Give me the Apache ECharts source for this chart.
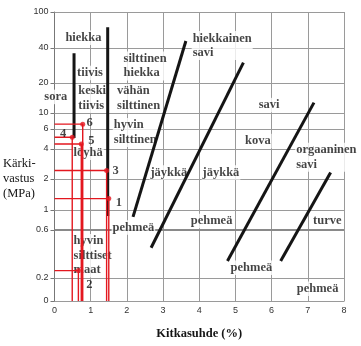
<!DOCTYPE html>
<html>
<head>
<meta charset="utf-8">
<script src="https://cdn.jsdelivr.net/npm/echarts@6/dist/echarts.min.js"></script>
<style>
  html, body { margin: 0; padding: 0; background: #fff; }
  #chart { width: 361px; height: 346px; }
</style>
</head>
<body>
<div id="chart"></div>
<script>
// Cone resistance ticks (MPa) and friction ratio ticks (%)
const yTickValues = [0, 0.2, 0.6, 1, 2, 4, 6, 10, 20, 40, 100];
const xTickValues = [0, 1, 2, 3, 4, 5, 6, 7, 8];

// The resistance scale of this diagram is hand-drawn: height of every tick above the base line
const scaleStops = [0, 23, 71, 91, 122, 152, 172, 188, 218, 253, 289];

// Zone boundaries, [friction ratio %, cone resistance MPa]
const sandLeftBoundary = [[0.54, 5.0], [0.54, 36]];
const sandRightBoundary = [[1.47, 0.86], [1.47, 68]];
const clayBoundaryA = [[2.17, 0.84], [3.63, 47.8]];
const clayBoundaryB = [[2.67, 0.40], [5.22, 29.9]];
const clayBoundaryC = [[4.78, 0.295], [7.17, 12.7]];
const peatBoundary = [[6.25, 0.295], [7.63, 2.33]];

// Numbered sounding results
const pointIds = ['1', '2', '3', '4', '5', '6'];
const pointFriction = [1.50, 0.66, 1.44, 0.49, 0.74, 0.78];
const pointResistance = [1.29, 0.237, 2.43, 5.07, 4.43, 7.0];

// Soil type names and where they sit in the diagram
const soilNames = ['hiekka', 'tiivis', 'keski\ntiivis', 'sora', 'vähän\nsilttinen',
  'silttinen\nhiekka', 'hiekkainen\nsavi', 'hyvin\nsilttinen', 'jäykkä', 'jäykkä',
  'pehmeä', 'pehmeä', 'savi', 'kova', 'orgaaninen\nsavi', 'turve', 'pehmeä', 'pehmeä',
  'löyhä', 'hyvin\nsilttiset\nmaat'];
const soilNameAnchors = [[0.80, 52], [0.98, 24.4], [0.63, 14], [0.036, 14.5], [1.70, 14],
  [1.88, 28], [3.79, 42.6], [1.61, 5.6], [3.16, 2.33], [4.60, 2.33],
  [2.18, 0.64], [4.34, 0.755], [5.93, 12], [5.62, 4.7], [6.65, 3.3], [7.54, 0.755],
  [5.44, 0.253], [7.27, 0.107], [0.93, 3.67], [0.50, 0.333]];

function yPos(v) {
  const n = yTickValues.length;
  for (let i = 0; i < n - 1; i++) {
    const a = yTickValues[i], b = yTickValues[i + 1];
    if (v <= b || i === n - 2) {
      const f = a === 0 ? v / b : Math.log(v / a) / Math.log(b / a);
      return scaleStops[i] + f * (scaleStops[i + 1] - scaleStops[i]);
    }
  }
}
const toXY = pts => pts.map(p => [p[0], yPos(p[1])]);

const serif = 'Liberation Serif';
const ink = '#151515';
const red = '#e3171f';

const numberOffsets = { '1': [10, 4], '2': [11, 14], '3': [9, 0], '4': [-9, -4], '5': [10, -3], '6': [7, -1] };

const boundarySeries = [sandLeftBoundary, sandRightBoundary, clayBoundaryA, clayBoundaryB, clayBoundaryC, peatBoundary]
  .map(b => ({
    type: 'line', data: toXY(b), symbol: 'none', silent: true, z: 3,
    lineStyle: { color: ink, width: 3 }
  }));

const redLineSeries = pointIds.map((id, i) => {
  const x = pointFriction[i], y = yPos(pointResistance[i]);
  return {
    type: 'line', data: [[0, y], [x, y], [x, 0]], symbol: 'none', silent: true, z: 4,
    lineStyle: { color: red, width: 1.4 }
  };
});

const chart = echarts.init(document.getElementById('chart'), null, { renderer: 'canvas' });
chart.setOption({
  animation: false,
  backgroundColor: '#fff',
  grid: { left: 54.5, right: 17, top: 12, bottom: 45 },
  xAxis: {
    type: 'value', min: 0, max: 8, interval: 1,
    name: 'Kitkasuhde (%)', nameLocation: 'middle', nameGap: 26,
    nameTextStyle: { fontFamily: serif, fontWeight: 'bold', fontSize: 12.5, color: ink },
    axisLine: { show: true, lineStyle: { color: '#777', width: 1 } },
    axisTick: { show: false },
    axisLabel: { margin: 5, fontFamily: 'Liberation Sans', fontSize: 9, color: '#333',
      formatter: v => xTickValues.includes(v) ? String(v) : '' },
    splitLine: { show: true, lineStyle: { color: '#9a9a9a', width: 1 } }
  },
  yAxis: {
    type: 'value', min: 0, max: scaleStops[scaleStops.length - 1],
    axisLine: { show: true, lineStyle: { color: '#777', width: 1 } },
    axisTick: { show: true, customValues: scaleStops, length: 4, lineStyle: { color: '#777' } },
    axisLabel: {
      customValues: scaleStops, margin: 6, fontFamily: 'Liberation Sans', fontSize: 9, color: '#333',
      formatter: v => {
        const i = scaleStops.indexOf(v);
        return i >= 0 ? String(yTickValues[i]) : '';
      }
    },
    splitLine: { show: false }
  },
  graphic: [{
    type: 'text', left: 3, top: 156, silent: true,
    style: { text: 'Kärki-\nvastus\n(MPa)', font: '12.5px "Liberation Serif"', lineHeight: 15, fill: ink }
  }],
  series: [
    {
      // horizontal grid lines at the resistance ticks
      type: 'line', data: [], silent: true,
      markLine: {
        silent: true, z: 1, symbol: ['none', 'none'], label: { show: false },
        lineStyle: { color: '#9a9a9a', width: 1, type: 'solid' },
        data: yTickValues.map(v => ({
          yAxis: yPos(v),
          lineStyle: v === 0.6 ? { width: 2, color: '#8a8a8a' } : undefined
        }))
      }
    },
    {
      type: 'scatter', silent: true, z: 2, clip: false,
      symbolSize: 1, itemStyle: { color: 'rgba(0,0,0,0)' },
      data: soilNames.map((n, i) => ({
        name: n,
        value: [soilNameAnchors[i][0], yPos(soilNameAnchors[i][1])],
        label: { align: n.includes('\n') ? 'left' : 'center' }
      })),
      label: {
        show: true, position: 'inside', verticalAlign: 'middle',
        formatter: p => p.name,
        fontFamily: serif, fontWeight: 'bold', fontSize: 12.5, lineHeight: 14.5, color: ink,
        backgroundColor: '#fff', padding: [0, 1]
      }
    },
    ...boundarySeries,
    ...redLineSeries,
    {
      type: 'scatter', silent: true, z: 5, clip: false,
      symbolSize: 5, itemStyle: { color: red },
      data: pointIds.map((id, i) => ({
        name: id,
        value: [pointFriction[i], yPos(pointResistance[i])],
        label: { offset: numberOffsets[id] }
      })),
      label: {
        show: true, position: 'inside', formatter: p => p.name,
        fontFamily: serif, fontWeight: 'bold', fontSize: 12.5, color: ink
      }
    }
  ]
});
</script>
</body>
</html>
